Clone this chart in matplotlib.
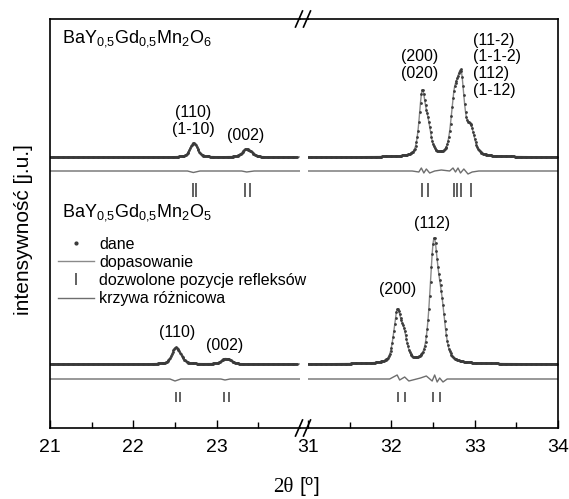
import numpy as np
import matplotlib.pyplot as plt
from matplotlib.lines import Line2D

plt.rcParams['font.family'] = ['Liberation Sans', 'DejaVu Sans']
plt.rcParams['mathtext.fontset'] = 'custom'
plt.rcParams['mathtext.rm'] = 'Liberation Sans'
plt.rcParams['mathtext.it'] = 'Liberation Sans:italic'

# --- dane (jednostki umowne) ---
# BaY0.5Gd0.5Mn2O6 : polozenia, wysokosci i szerokosci refleksow
pos6 = [22.71, 22.75, 23.34, 23.40, 32.37, 32.44, 32.75, 32.79, 32.84, 32.95]
h6 = [10, 6, 6, 4, 60, 26, 42, 24, 66, 26]
w6 = [0.09, 0.09, 0.10, 0.10, 0.085, 0.09, 0.09, 0.09, 0.09, 0.11]
base6 = 271

# BaY0.5Gd0.5Mn2O5
pos5 = [22.50, 22.56, 23.09, 23.15, 32.07, 32.15, 32.51, 32.60]
h5 = [14, 6, 4, 3, 48, 24, 115, 48]
w5 = [0.10, 0.10, 0.10, 0.10, 0.10, 0.10, 0.11, 0.11]
base5 = 64

# krzywe roznicowe
d6_x = [21.0, 22.65, 22.72, 22.80, 23.30, 23.36, 23.45, 23.97,
        31.0, 32.25, 32.33, 32.36, 32.39, 32.42, 32.46, 32.52, 32.60, 32.70,
        32.74, 32.77, 32.80, 32.83, 32.87, 32.92, 32.97, 33.05, 34.0]
d6_y = [0, 0, -1.5, 0, 0, -1, 0, 0,
        0, 0, -1, 3, -2, 2, -2, 0, 1, 0,
        3, -1, 3, -2, 2, -3, -1, 0, 0]
d6_off = 257

d5_x = [21.0, 22.44, 22.50, 22.57, 23.05, 23.10, 23.16, 23.97,
        31.0, 31.98, 32.07, 32.10, 32.16, 32.21, 32.35, 32.42, 32.49, 32.52,
        32.55, 32.58, 32.62, 32.67, 34.0]
d5_y = [0, 0, -2, 0, 0, -1, 0, 0,
        0, 0, 4, -1, 2, -2, 1, 3, -2, 4,
        -3, 1, -3, 0, 0]
d5_off = 49

# dozwolone pozycje refleksow
tick6 = [22.71, 22.75, 23.34, 23.40, 32.37, 32.44, 32.75, 32.79, 32.83, 32.95]
tick5 = [22.51, 22.56, 23.09, 23.15, 32.08, 32.16, 32.50, 32.58]


def profil(x, pos, h, w, base):
    y = np.full_like(x, float(base))
    for p, a, fw in zip(pos, h, w):
        t = (x - p) / (fw / 2)
        y += a * (0.5 / (1 + t**2) + 0.5 * np.exp(-np.log(2) * t**2))
    return y


x = np.concatenate([np.arange(21.0, 23.97, 0.01), np.arange(31.0, 34.0, 0.01)])
y6 = profil(x, pos6, h6, w6, base6)
y5 = profil(x, pos5, h5, w5, base5)

W, H = 569, 499
fig = plt.figure(figsize=(W / 100, H / 100), dpi=100)
axL = fig.add_axes([50 / W, 71 / H, 250 / W, 409 / H])
axR = fig.add_axes([308 / W, 71 / H, 250 / W, 409 / H])

c_dot = '#3a3a3a'
c_fit = '#8a8a8a'
c_diff = '#6e6e6e'
c_tick = '#555555'

for ax in (axL, axR):
    for y in (y6, y5):
        ax.plot(x, y, '-', lw=1.0, color=c_fit)
        ax.plot(x, y, 'o', ms=2.0, color=c_dot, mec='none')
    ax.plot(d6_x, np.array(d6_y) + d6_off, '-', lw=1.0, color=c_diff)
    ax.plot(d5_x, np.array(d5_y) + d5_off, '-', lw=1.0, color=c_diff)
    ax.vlines(tick6, 231, 245, color=c_tick, lw=1.3)
    ax.vlines(tick5, 26, 36, color=c_tick, lw=1.3)
    ax.set_ylim(0, 409)
    ax.set_yticks([])
    ax.tick_params(axis='x', direction='in', length=6, width=1, labelsize=14,
                   pad=8, top=False)
    ax.tick_params(axis='x', which='minor', direction='in', length=4, width=1,
                   top=False)
    for s in ax.spines.values():
        s.set_linewidth(1.2)

axL.set_xlim(21, 24)
axL.set_xticks([21, 22, 23])
axL.set_xticks([21.5, 22.5, 23.5], minor=True)
axL.spines['right'].set_visible(False)

axR.set_xlim(31, 34)
axR.set_xticks([31, 32, 33, 34])
axR.set_xticks([31.5, 32.5, 33.5], minor=True)
axR.spines['left'].set_visible(False)

# przerwa osi
for yp in (19, 428):
    fy = 1 - yp / H
    fig.add_artist(Line2D([300 / W, 308 / W], [fy, fy], color='k', lw=1.2,
                          transform=fig.transFigure))
    for xc in (299, 307):
        fig.add_artist(Line2D([(xc - 3.5) / W, (xc + 3.5) / W],
                              [fy - 8 / H, fy + 8 / H], color='k', lw=1.2,
                              transform=fig.transFigure))

# podpisy
axL.text(21.14, 385, r'BaY$\mathregular{_{0{,}5}}$Gd$\mathregular{_{0{,}5}}$Mn$\mathregular{_2}$O$\mathregular{_6}$',
         fontsize=13, va='baseline', ha='left')
axL.text(21.14, 211, r'BaY$\mathregular{_{0{,}5}}$Gd$\mathregular{_{0{,}5}}$Mn$\mathregular{_2}$O$\mathregular{_5}$',
         fontsize=13, va='baseline', ha='left')

fs = 11.5
axL.text(22.72, 291, '(110)\n(1-10)', fontsize=fs, ha='center', va='bottom', linespacing=1.15)
axL.text(23.35, 285, '(002)', fontsize=fs, ha='center', va='bottom')
axR.text(32.34, 347, '(200)\n(020)', fontsize=fs, ha='center', va='bottom', linespacing=1.15)
axR.text(32.98, 330, '(11-2)\n(1-1-2)\n(112)\n(1-12)', fontsize=fs, ha='left',
         va='bottom', linespacing=1.15)
axR.text(32.49, 197, '(112)', fontsize=fs, ha='center', va='bottom')
axR.text(32.07, 131, '(200)', fontsize=fs, ha='center', va='bottom')
axL.text(22.52, 88, '(110)', fontsize=fs, ha='center', va='bottom')
axL.text(23.09, 75, '(002)', fontsize=fs, ha='center', va='bottom')

handles = [
    Line2D([], [], marker='o', ms=2.0, ls='none', color=c_dot),
    Line2D([], [], lw=1.0, color=c_fit),
    Line2D([], [], marker='|', ms=9, mew=1.3, ls='none', color=c_tick),
    Line2D([], [], lw=1.0, color=c_diff),
]
labels = ['dane', 'dopasowanie', 'dozwolone pozycje refleksów', 'krzywa różnicowa']
axL.legend(handles, labels, loc='upper left', bbox_to_anchor=(0.03, 0.468),
           frameon=False, fontsize=fs, borderaxespad=0, borderpad=0,
           handlelength=2.3, handletextpad=0.3, labelspacing=0.2)

fig.text(24 / W, 1 - 230 / H, 'intensywność [j.u.]', rotation=90, fontsize=15,
         ha='center', va='center')
fig.text(294 / W, 1 - 487 / H, '2θ', fontsize=15, ha='right', va='center',
         family='Liberation Serif')
fig.text(299 / W, 1 - 487 / H, r'[$\mathregular{^o}$]', fontsize=15,
         ha='left', va='center')

fig.savefig('out.png', dpi=100)
